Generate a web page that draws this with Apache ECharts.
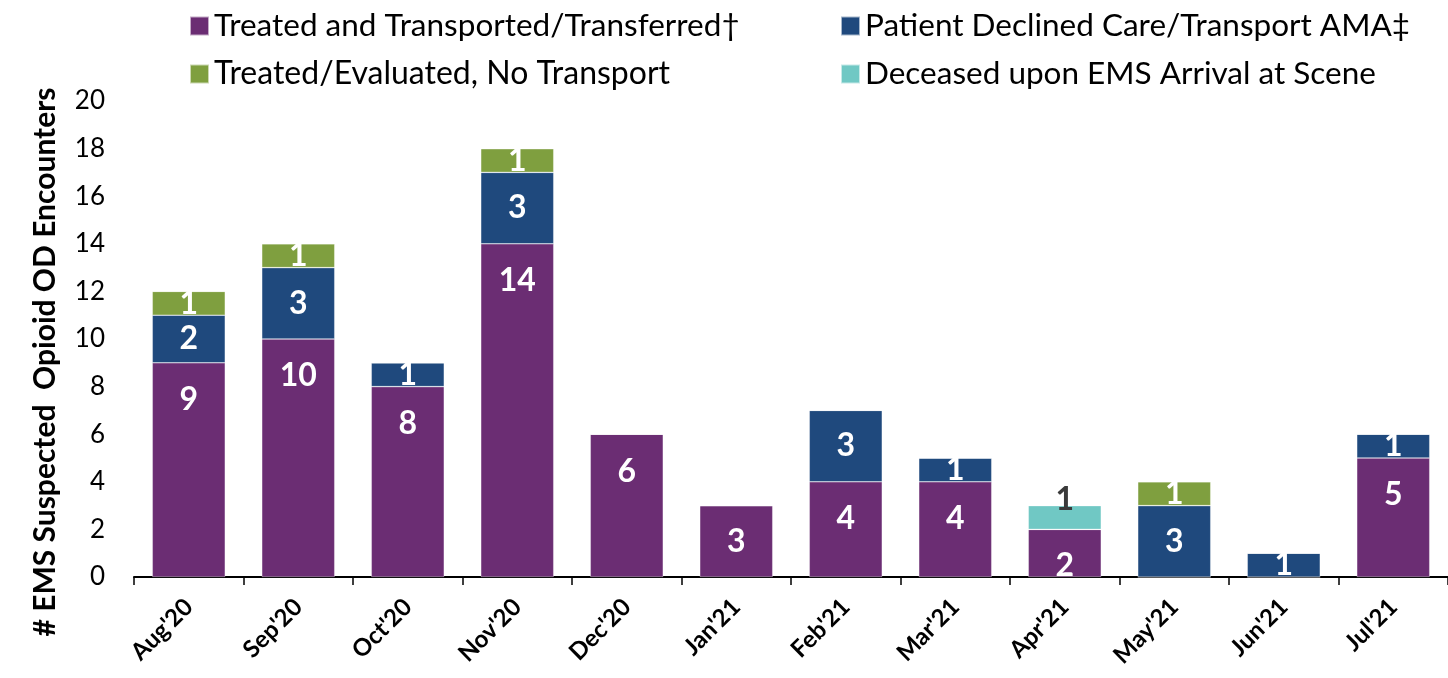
<!DOCTYPE html>
<html><head><meta charset="utf-8">
<script src="https://cdn.jsdelivr.net/npm/echarts@6/dist/echarts.min.js"></script>
<style>html,body{margin:0;padding:0;background:#fff}#c{width:1448px;height:678px}</style>
</head><body><div id="c"></div>
<script>
var categories = ["Aug'20","Sep'20","Oct'20","Nov'20","Dec'20","Jan'21","Feb'21","Mar'21","Apr'21","May'21","Jun'21","Jul'21"];
var transported = [9,10,8,14,6,3,4,4,2,0,0,5];
var declined    = [2,3,1,3,0,0,3,1,0,3,1,1];
var noTransport = [1,1,0,1,0,0,0,0,0,1,0,0];
var deceased    = [0,0,0,0,0,0,0,0,1,0,0,0];
var seriesNames = ["Treated and Transported/Transferred\u2020","Patient Declined Care/Transport AMA\u2021","Treated/Evaluated, No Transport","Deceased upon EMS Arrival at Scene"];
var colors = ['#6B2D73','#1F497D','#7F9F3F','#70C8C4'];
var yTicks = {min:0, max:20, interval:2};

var FONT = 'Lato';
function mk(name, vals, color, labelColor, special){
  return {
    name: name, type:'bar', stack:'s', barWidth:73,
    itemStyle:{color:color, borderColor:'rgba(255,255,255,0.6)', borderWidth:0.6},
    label:{show:true, position:'inside', color:labelColor||'#fff', fontFamily:FONT, fontWeight:'bold', fontSize:32,
      formatter:function(p){return p.value? String(p.value):'';}},
    data: vals.map(function(v, i){
      var item = {value:v};
      var lab = {};
      if (v >= 4) { lab.position = 'insideTop'; lab.distance = 21; }
      if (special && special[i]) { lab.offset = special[i]; }
      item.label = lab;
      return item;
    })
  };
}
var chart = echarts.init(document.getElementById('c'));
function leg(i,left,top,fs){
  return {data:[seriesNames[i]], left:left, top:top, itemWidth:19, itemHeight:19, itemGap:0,
    icon:'rect', textStyle:{fontFamily:FONT, fontSize:fs, color:'#000'}, selectedMode:false};
}
chart.setOption({
  animation:false,
  color: colors,
  legend:[leg(0,184,5,31.5), leg(1,835,5,31.5), leg(2,184,53,32), leg(3,835,53,31.5)],
  grid:{left:134, right:-10, top:101, bottom:101},
  xAxis:{type:'category', data:categories,
    axisLine:{lineStyle:{color:'#000', width:2}},
    axisTick:{show:true, length:8, lineStyle:{color:'#000', width:1.5}},
    axisLabel:{rotate:45, fontFamily:FONT, fontWeight:'bold', fontSize:24, color:'#000', margin:26, interval:0}},
  yAxis:{type:'value', min:yTicks.min, max:yTicks.max, interval:yTicks.interval,
    splitLine:{show:false}, axisLine:{show:false}, axisTick:{show:false},
    axisLabel:{fontFamily:FONT, fontSize:26, color:'#000', margin:29}},
  graphic:[{type:'text', x:45, y:362, rotation:Math.PI/2,
    style:{text:'# EMS Suspected  Opioid OD Encounters', fontFamily:FONT, fontWeight:'bold', fontSize:30, fill:'#000', align:'center', verticalAlign:'middle'}}],
  series:[
    mk(seriesNames[0], transported, colors[0], null, {8:[0,12]}),
    mk(seriesNames[1], declined, colors[1]),
    mk(seriesNames[2], noTransport, colors[2]),
    mk(seriesNames[3], deceased, colors[3], '#3a3a3a', {8:[0,-18]})
  ]
});
</script></body></html>
